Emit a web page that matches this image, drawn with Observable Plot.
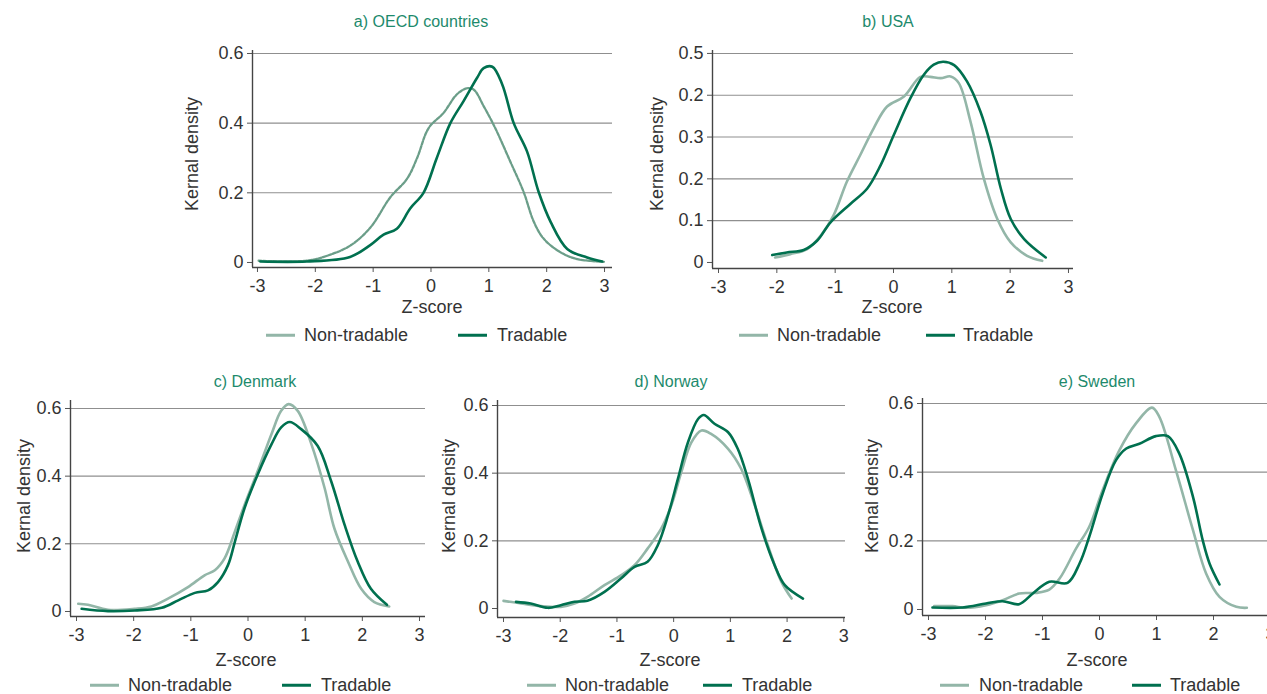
<!DOCTYPE html>
<html>
<head>
<meta charset="utf-8">
<script src="https://cdn.jsdelivr.net/npm/d3@7"></script>
<script src="https://cdn.jsdelivr.net/npm/@observablehq/plot@0.6"></script>
<style>
  html, body { margin: 0; padding: 0; background: #fff; }
  body { width: 1267px; height: 694px; overflow: hidden; position: relative; font-family: "Liberation Sans", Arial, sans-serif; color: #333; }
  .abs { position: absolute; white-space: nowrap; line-height: 1; }
  .title { font-size: 16px; color: #1d8a6c; transform: translate(-50%, -50%); }
  .xlab { font-size: 18px; transform: translate(-50%, -50%); }
  .ylab { font-size: 18px; transform: translate(-50%, -50%) rotate(-90deg); }
  .legtext { font-size: 18px; transform: translateY(-50%); }
  .legline { height: 2.5px; width: 29px; transform: translateY(-50%); }
  .panel { position: absolute; }
  .panel svg { overflow: visible; max-width: none !important; display: block; }
</style>
</head>
<body>
<script>
// ---------- data ----------
const xTicks = [-3, -2, -1, 0, 1, 2, 3];
const xTickLabels = ["-3", "-2", "-1", "0", "1", "2", "3"];
const yTicks06 = [0, 0.2, 0.4, 0.6];
const yTickLabels06 = ["0", "0.2", "0.4", "0.6"];
const yTicksUSA = [0, 0.1, 0.2, 0.3, 0.4, 0.5];
const yTickLabelsUSA = ["0", "0.1", "0.2", "0.3", "0.2", "0.5"];
const seriesNames = ["Non-tradable", "Tradable"];
const panelTitles = ["a) OECD countries", "b) USA", "c) Denmark", "d) Norway", "e) Sweden"];
const xLabel = "Z-score";
const yLabel = "Kernal density";

const oecdTradable = [[-2.95,0.003],[-2.15,0.003],[-1.40,0.016],[-1.05,0.05],[-0.82,0.08],[-0.59,0.097],[-0.36,0.155],[-0.13,0.20],[0.10,0.30],[0.335,0.40],[0.566,0.464],[0.80,0.531],[0.91,0.558],[1.06,0.562],[1.23,0.512],[1.43,0.40],[1.66,0.319],[1.86,0.203],[2.07,0.116],[2.355,0.039],[2.70,0.0145],[2.96,0.003]];
const oecdNonTradable = [[-2.98,0.005],[-2.15,0.005],[-1.80,0.019],[-1.40,0.048],[-1.05,0.10],[-0.70,0.188],[-0.415,0.24],[-0.24,0.30],[-0.04,0.386],[0.22,0.43],[0.45,0.483],[0.62,0.50],[0.74,0.496],[0.91,0.449],[1.11,0.386],[1.37,0.29],[1.60,0.203],[1.78,0.116],[1.95,0.068],[2.24,0.029],[2.53,0.0097],[2.99,0.002]];

const usaTradable = [[-2.08,0.0177],[-1.83,0.024],[-1.54,0.030],[-1.31,0.052],[-1.08,0.096],[-0.74,0.14],[-0.45,0.177],[-0.22,0.233],[0.005,0.305],[0.29,0.393],[0.52,0.449],[0.69,0.473],[0.85,0.48],[1.04,0.472],[1.26,0.433],[1.49,0.361],[1.665,0.281],[1.84,0.177],[2.01,0.104],[2.24,0.056],[2.61,0.012]];
const usaNonTradable = [[-2.03,0.012],[-1.77,0.020],[-1.48,0.032],[-1.25,0.064],[-1.03,0.112],[-0.80,0.193],[-0.57,0.257],[-0.34,0.321],[-0.11,0.373],[0.18,0.397],[0.46,0.444],[0.63,0.444],[0.81,0.441],[0.98,0.445],[1.12,0.429],[1.32,0.337],[1.55,0.20],[1.78,0.104],[2.01,0.048],[2.29,0.016],[2.55,0.004]];

const denmarkTradable = [[-2.91,0.008],[-2.45,0.001],[-1.98,0.003],[-1.51,0.011],[-1.22,0.033],[-0.93,0.055],[-0.70,0.0625],[-0.525,0.087],[-0.35,0.137],[-0.23,0.206],[-0.06,0.306],[0.17,0.405],[0.41,0.494],[0.58,0.544],[0.73,0.56],[0.93,0.539],[1.22,0.489],[1.455,0.385],[1.69,0.256],[1.92,0.147],[2.15,0.067],[2.43,0.0198]];
const denmarkNonTradable = [[-2.97,0.0228],[-2.80,0.0198],[-2.45,0.005],[-1.98,0.008],[-1.69,0.015],[-1.40,0.038],[-1.05,0.072],[-0.76,0.107],[-0.58,0.122],[-0.41,0.157],[-0.23,0.236],[-0.06,0.315],[0.17,0.415],[0.41,0.524],[0.58,0.593],[0.71,0.613],[0.87,0.593],[1.11,0.494],[1.34,0.365],[1.51,0.246],[1.75,0.147],[1.98,0.067],[2.21,0.028],[2.47,0.015]];

const norwayTradable = [[-2.78,0.0197],[-2.52,0.0147],[-2.22,0.002],[-1.99,0.0098],[-1.75,0.0197],[-1.52,0.0226],[-1.22,0.049],[-0.93,0.0885],[-0.69,0.123],[-0.46,0.138],[-0.28,0.187],[-0.10,0.275],[0.075,0.383],[0.25,0.49],[0.43,0.56],[0.53,0.572],[0.72,0.546],[0.96,0.521],[1.13,0.472],[1.31,0.383],[1.55,0.236],[1.78,0.128],[1.96,0.069],[2.28,0.0295]];
const norwayNonTradable = [[-3.0,0.0226],[-2.69,0.0147],[-2.34,0.0069],[-1.99,0.0049],[-1.75,0.0147],[-1.52,0.0344],[-1.22,0.069],[-0.93,0.098],[-0.69,0.128],[-0.46,0.177],[-0.22,0.236],[-0.04,0.305],[0.135,0.403],[0.31,0.49],[0.49,0.526],[0.66,0.516],[0.96,0.472],[1.19,0.413],[1.43,0.305],[1.66,0.187],[1.90,0.0787],[2.08,0.0295]];

const swedenTradable = [[-2.93,0.0058],[-2.40,0.0058],[-1.99,0.0175],[-1.70,0.024],[-1.41,0.0155],[-1.17,0.0466],[-0.88,0.0806],[-0.56,0.0777],[-0.35,0.134],[-0.18,0.212],[0.056,0.338],[0.29,0.435],[0.47,0.469],[0.70,0.483],[0.99,0.505],[1.20,0.505],[1.40,0.454],[1.64,0.328],[1.81,0.202],[1.93,0.134],[2.105,0.0728]];
const swedenNonTradable = [[-2.90,0.0097],[-2.58,0.0097],[-2.34,0.0049],[-1.99,0.0126],[-1.70,0.027],[-1.41,0.0466],[-1.11,0.0485],[-0.88,0.058],[-0.70,0.09],[-0.41,0.178],[-0.18,0.241],[0.056,0.348],[0.35,0.464],[0.64,0.542],[0.92,0.588],[1.05,0.561],[1.34,0.406],[1.64,0.231],[1.87,0.105],[2.105,0.0369],[2.40,0.0078],[2.585,0.0049]];

// ---------- styling / layout ----------
const colTradable = "#00704f";
const colNonTradable = "#93b6a8";
const colNonTradableDash = "#6b9e89";

const panels = [
  {title: panelTitles[0], tradable: oecdTradable, non: oecdNonTradable, yTicks: yTicks06, yLabels: yTickLabels06,
   left: 180, top: 40, width: 440, height: 282, mL: 72, mR: 8, mT: 10, mB: 55,
   xDom: [-3.086, 3.138], yDom: [-0.0144, 0.6086], dashed: true,
   titlePos: [421, 22], xlabPos: [432, 307], ylabPos: [192, 154], legY: 335, leg: [266, 304, 458, 497]},
  {title: panelTitles[1], tradable: usaTradable, non: usaNonTradable, yTicks: yTicksUSA, yLabels: yTickLabelsUSA,
   left: 640, top: 40, width: 440, height: 282, mL: 72, mR: 7, mT: 10, mB: 54,
   xDom: [-3.103, 3.086], yDom: [-0.0144, 0.507], dashed: false,
   titlePos: [888, 22], xlabPos: [892, 307], ylabPos: [657, 154], legY: 335, leg: [739, 777, 926, 963]},
  {title: panelTitles[2], tradable: denmarkTradable, non: denmarkNonTradable, yTicks: yTicks06, yLabels: yTickLabels06,
   left: 0, top: 390, width: 430, height: 282, mL: 70, mR: 5, mT: 10, mB: 56,
   xDom: [-3.105, 3.105], yDom: [-0.0148, 0.6236], dashed: false,
   titlePos: [255, 382], xlabPos: [246, 660], ylabPos: [24, 496], legY: 685, leg: [90, 128, 282, 321]},
  {title: panelTitles[3], tradable: norwayTradable, non: norwayNonTradable, yTicks: yTicks06, yLabels: yTickLabels06,
   left: 430, top: 390, width: 420, height: 282, mL: 67, mR: 5, mT: 10, mB: 55,
   xDom: [-3.106, 3.03], yDom: [-0.0266, 0.6148], dashed: false,
   titlePos: [671, 382], xlabPos: [670, 660], ylabPos: [449, 496], legY: 685, leg: [527, 565, 703, 742]},
  {title: panelTitles[4], tradable: swedenTradable, non: swedenNonTradable, yTicks: yTicks06, yLabels: yTickLabels06,
   left: 850, top: 390, width: 430, height: 282, mL: 72, mR: 4, mT: 8, mB: 57,
   xDom: [-3.105, 3.105], yDom: [-0.0175, 0.6146], dashed: false,
   titlePos: [1097, 382], xlabPos: [1097, 660], ylabPos: [872, 496], legY: 685, leg: [940, 979, 1132, 1170]}
];

function addDiv(cls, text, x, y, extraStyle) {
  const d = document.createElement("div");
  d.className = "abs " + cls;
  d.textContent = text;
  d.style.left = x + "px";
  d.style.top = y + "px";
  if (extraStyle) Object.assign(d.style, extraStyle);
  document.body.appendChild(d);
  return d;
}

for (const p of panels) {
  const labelMap = new Map(p.yTicks.map((t, i) => [t, p.yLabels[i]]));
  const xLabelMap = new Map(xTicks.map((t, i) => [t, xTickLabels[i]]));
  const gridTicks = p.yTicks.filter(t => t !== 0);
  const chart = Plot.plot({
    width: p.width,
    height: p.height,
    marginLeft: p.mL,
    marginRight: p.mR,
    marginTop: p.mT,
    marginBottom: p.mB,
    style: {fontFamily: "'Liberation Sans', Arial, sans-serif", fontSize: "18px", color: "#333", background: "transparent", overflow: "visible", maxWidth: "none"},
    x: {domain: p.xDom},
    y: {domain: p.yDom},
    marks: [
      Plot.gridY(gridTicks, {stroke: "#8f8f8f", strokeOpacity: 1, strokeWidth: 1.1}),
      Plot.axisY(p.yTicks, {tickSize: 5, tickPadding: 4, fontSize: 18, label: null, tickFormat: d => labelMap.get(d), stroke: "#555"}),
      Plot.axisX(xTicks, {tickSize: 5, tickPadding: 7, fontSize: 18, label: null, tickFormat: d => xLabelMap.get(d), stroke: "#555"}),
      Plot.ruleX([p.xDom[0]], {stroke: "#444", strokeWidth: 1.4}),
      Plot.ruleY([p.yDom[0]], {stroke: "#444", strokeWidth: 1.4}),
      Plot.line(p.non, {x: d => d[0], y: d => d[1], stroke: p.dashed ? colNonTradableDash : colNonTradable, strokeWidth: p.dashed ? 2.3 : 2.6, strokeDasharray: p.dashed ? "3.5,1.5" : null, curve: "catmull-rom"}),
      Plot.line(p.tradable, {x: d => d[0], y: d => d[1], stroke: colTradable, strokeWidth: 2.6, curve: "catmull-rom"})
    ]
  });
  const wrap = document.createElement("div");
  wrap.className = "panel";
  wrap.style.left = p.left + "px";
  wrap.style.top = p.top + "px";
  wrap.style.width = p.width + "px";
  wrap.style.height = p.height + "px";
  wrap.appendChild(chart);
  document.body.appendChild(wrap);

  addDiv("title", p.title, p.titlePos[0], p.titlePos[1]);
  addDiv("xlab", xLabel, p.xlabPos[0], p.xlabPos[1]);
  addDiv("ylab", yLabel, p.ylabPos[0], p.ylabPos[1]);
  // legend
  addDiv("legline", "", p.leg[0], p.legY, {background: colNonTradable});
  addDiv("legtext", seriesNames[0], p.leg[1], p.legY);
  addDiv("legline", "", p.leg[2], p.legY, {background: colTradable});
  addDiv("legtext", seriesNames[1], p.leg[3], p.legY);
}
</script>
</body>
</html>
